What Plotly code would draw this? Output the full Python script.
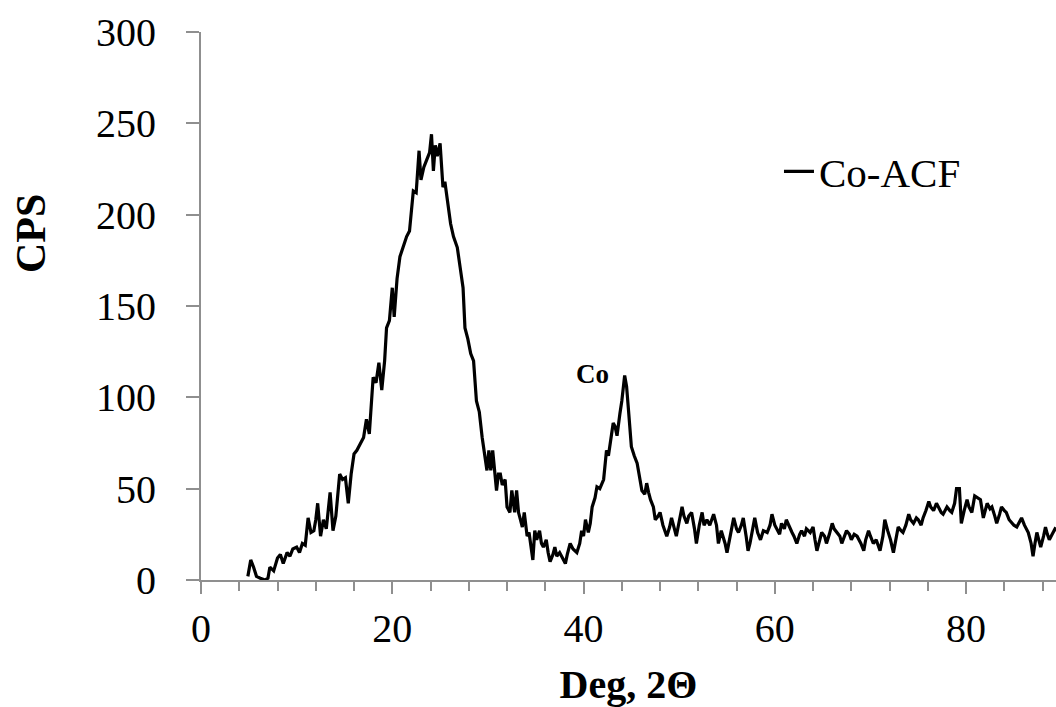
import plotly.graph_objects as go

# 2-theta (deg) and counts per second for the Co-ACF sample
two_theta = [4.9, 5.2, 5.5, 5.8, 6.2, 6.7, 7.0, 7.2, 7.6, 8.0, 8.3, 8.6, 9.0, 9.3, 9.6, 10.0, 10.3, 10.6, 10.9,
             11.2, 11.5, 11.8, 12.0, 12.2, 12.5, 12.8, 13.1, 13.5, 13.8, 14.1, 14.5, 14.8, 15.1, 15.4, 15.7,
             16.0, 16.3, 16.7, 17.0, 17.3, 17.6, 18.0, 18.3, 18.6, 18.9, 19.2, 19.4, 19.7, 20.0, 20.2, 20.5,
             20.8, 21.1, 21.5, 21.8, 22.2, 22.5, 22.8, 23.0, 23.3, 23.6, 23.9, 24.1, 24.3, 24.5, 24.7, 25.0,
             25.3, 25.5, 25.7, 26.1, 26.4, 26.8, 27.1, 27.4, 27.6, 27.9, 28.2, 28.5, 28.8, 29.1, 29.4, 29.7,
             29.9, 30.1, 30.3, 30.5, 30.7, 30.9, 31.1, 31.3, 31.5, 31.8, 32.0, 32.3, 32.5, 32.8, 33.0, 33.2,
             33.4, 33.6, 33.8, 34.1, 34.3, 34.5, 34.7, 34.9, 35.1, 35.4, 35.6, 35.8, 36.1, 36.3, 36.5, 36.8,
             37.0, 37.2, 37.5, 37.8, 38.1, 38.3, 38.6, 38.9, 39.3, 39.6, 39.8, 40.0, 40.2, 40.5, 40.7, 40.9,
             41.2, 41.4, 41.7, 42.1, 42.4, 42.6, 42.9, 43.1, 43.3, 43.5, 43.8, 44.0, 44.3, 44.5, 44.7, 44.9,
             45.0, 45.3, 45.6, 45.8, 46.1, 46.4, 46.6, 46.8, 47.0, 47.3, 47.5, 47.8, 48.0, 48.3, 48.7, 49.0,
             49.2, 49.5, 49.7, 50.0, 50.3, 50.5, 50.8, 51.0, 51.3, 51.6, 51.8, 52.1, 52.4, 52.6, 52.9, 53.2,
             53.6, 53.9, 54.1, 54.4, 54.6, 54.8, 55.0, 55.3, 55.7, 56.0, 56.2, 56.5, 56.7, 57.0, 57.2, 57.4,
             57.7, 57.9, 58.2, 58.5, 58.8, 59.2, 59.5, 59.7, 60.0, 60.2, 60.5, 60.7, 61.0, 61.2, 61.5, 61.8,
             62.0, 62.3, 62.6, 62.8, 63.1, 63.3, 63.7, 64.0, 64.2, 64.4, 64.7, 64.9, 65.2, 65.4, 65.7, 66.0,
             66.2, 66.5, 66.8, 67.0, 67.3, 67.5, 67.8, 68.0, 68.3, 68.6, 69.0, 69.3, 69.5, 69.8, 70.0, 70.3,
             70.6, 71.0, 71.3, 71.5, 71.8, 72.1, 72.4, 72.6, 72.9, 73.2, 73.4, 73.7, 74.0, 74.2, 74.5, 74.8,
             75.0, 75.3, 75.5, 75.8, 76.1, 76.3, 76.6, 76.9, 77.1, 77.4, 77.6, 78.0, 78.3, 78.5, 78.8, 79.0,
             79.3, 79.5, 79.8, 80.1, 80.3, 80.6, 80.9, 81.2, 81.5, 81.8, 82.0, 82.2, 82.5, 82.7, 83.0, 83.2,
             83.5, 83.7, 84.0, 84.2, 84.5, 84.8, 85.0, 85.3, 85.6, 85.8, 86.1, 86.5, 86.8, 87.0, 87.2, 87.4,
             87.6, 87.8, 88.1, 88.3, 88.5, 88.7, 89.0, 89.3, 89.6]

cps = [2, 11, 7, 2, 1, 0, 1, 7, 5, 12, 14, 9, 15, 13, 17, 18, 15, 20, 19,
       34, 26, 27, 33, 42, 24, 33, 28, 48, 27, 35, 58, 55, 56, 42, 58,
       69, 71, 75, 78, 88, 80, 111, 108, 119, 104, 120, 138, 142, 160, 144, 165,
       177, 182, 188, 191, 213, 212, 235, 219, 226, 230, 234, 244, 224, 238, 232, 239,
       215, 218, 210, 195, 188, 182, 171, 160, 138, 132, 124, 120, 98, 92, 78, 68,
       60, 71, 60, 71, 58, 49, 58, 58, 52, 55, 40, 37, 49, 37, 49, 37,
       33, 29, 37, 24, 26, 18, 11, 27, 22, 27, 20, 18, 22, 15, 10, 14,
       18, 13, 15, 12, 9, 14, 20, 17, 15, 20, 27, 24, 33, 26, 31, 40,
       45, 51, 50, 55, 71, 68, 78, 86, 84, 79, 91, 98, 112, 106, 93, 80,
       73, 68, 64, 58, 49, 47, 53, 48, 44, 40, 33, 35, 37, 30, 24, 29,
       34, 28, 24, 32, 40, 35, 31, 35, 37, 28, 20, 30, 37, 30, 33, 30,
       36, 30, 20, 27, 24, 20, 15, 24, 34, 28, 26, 30, 34, 24, 16, 20,
       28, 34, 26, 22, 27, 26, 30, 36, 30, 28, 25, 31, 28, 33, 29, 26,
       24, 20, 25, 27, 24, 28, 26, 29, 22, 16, 22, 26, 24, 20, 25, 31,
       28, 26, 24, 20, 24, 27, 25, 22, 25, 24, 20, 16, 22, 27, 24, 20,
       22, 16, 24, 33, 27, 22, 15, 20, 29, 27, 26, 30, 36, 33, 31, 34,
       33, 30, 34, 38, 43, 40, 38, 42, 40, 37, 36, 40, 38, 37, 42, 50,
       50, 31, 38, 44, 40, 37, 46, 45, 44, 34, 38, 42, 39, 40, 35, 31,
       36, 40, 38, 37, 33, 31, 30, 29, 32, 34, 30, 26, 20, 13, 20, 26,
       22, 18, 24, 29, 25, 22, 25, 28, 27]

series_name = "Co-ACF"
x_ticks = [0, 20, 40, 60, 80]
y_ticks = [0, 50, 100, 150, 200, 250, 300]
peak_label = "Co"
peak_pos = (40.9, 113)

FONT = "Liberation Serif, Times New Roman, serif"
AXIS_GREY = "#8f8f8f"

fig = go.Figure()
fig.add_trace(go.Scatter(x=two_theta, y=cps, mode="lines", name=series_name,
                         line=dict(color="black", width=3.2)))

fig.update_layout(
    width=1056, height=707,
    margin=dict(l=201, r=0, t=32, b=127, autoexpand=False),
    paper_bgcolor="white", plot_bgcolor="white",
    font=dict(family=FONT, size=40, color="black"),
    showlegend=True,
    legend=dict(x=0.676, y=0.745, xanchor="left", yanchor="middle",
                bgcolor="rgba(0,0,0,0)", font=dict(size=41, family=FONT),
                itemwidth=30),
    xaxis=dict(range=[0, 89.4], tickmode="array", tickvals=x_ticks,
               automargin=False,
               showgrid=False, zeroline=False, showline=True,
               linecolor=AXIS_GREY, linewidth=2,
               ticks="outside", ticklen=12, tickwidth=2, tickcolor=AXIS_GREY,
               minor=dict(dtick=4, ticks="outside", ticklen=9, tickwidth=2,
                          tickcolor=AXIS_GREY, showgrid=False),
               tickfont=dict(size=40, family=FONT),
               title=dict(text="<b>Deg, 2Θ</b>", font=dict(size=40, family=FONT),
                          standoff=20)),
    yaxis=dict(range=[0, 300], tickmode="array", tickvals=y_ticks,
               automargin=False,
               showgrid=False, zeroline=False, showline=True,
               linecolor=AXIS_GREY, linewidth=2,
               ticks="outside", ticklen=13, tickwidth=2, tickcolor=AXIS_GREY,
               tickfont=dict(size=40, family=FONT), ticklabelstandoff=22),
    annotations=[
        dict(text="<b>CPS</b>", xref="paper", yref="paper",
             x=(31 - 201) / 855, y=(580 - 234) / 548, textangle=-90,
             showarrow=False, font=dict(size=42, family=FONT),
             xanchor="center", yanchor="middle"),
        dict(text="<b>" + peak_label + "</b>", x=peak_pos[0], y=peak_pos[1],
             xref="x", yref="y", showarrow=False,
             font=dict(size=27, family=FONT), xanchor="center", yanchor="middle"),
    ],
)

# remove the browser's default 8px page margin so the figure fills the window
fig.write_html("out.html",
               config={"displayModeBar": False},
               post_script="document.body.style.margin='0px';"
                           "document.body.style.overflow='hidden';")
